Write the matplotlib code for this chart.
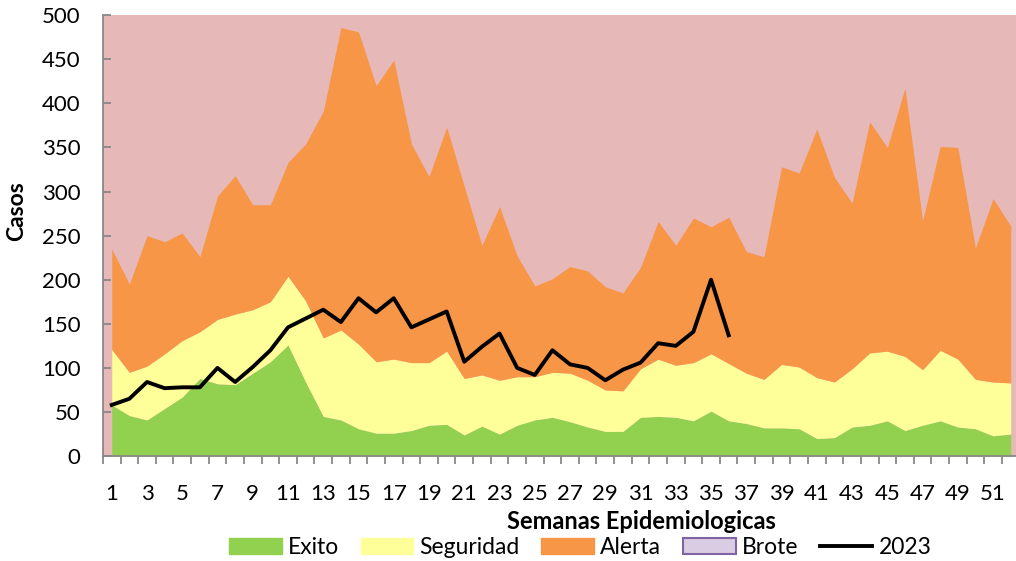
import matplotlib
matplotlib.use('Agg')
import matplotlib.pyplot as plt
from matplotlib.patches import Patch
from matplotlib.lines import Line2D
import numpy as np

plt.rcParams['font.family'] = ['Lato', 'DejaVu Sans']

weeks = np.arange(1, 53)

# upper limit of each zone (channel endemic limits), cases per week
exito = [58, 46, 41, 54, 67, 88, 82, 81, 94, 107, 126, 84, 45, 41, 31, 26, 26, 29,
         35, 36, 24, 34, 25, 35, 41, 44, 39, 33, 28, 28, 44, 45, 44, 40, 51, 40,
         37, 32, 32, 31, 20, 21, 33, 35, 40, 29, 35, 40, 33, 31, 23, 25]
seguridad = [121, 95, 102, 116, 131, 141, 155, 161, 166, 175, 204, 176, 134, 143, 127, 107, 110, 106,
             106, 119, 88, 92, 86, 90, 90, 95, 94, 86, 75, 74, 99, 110, 103, 106, 116, 105,
             94, 87, 104, 101, 89, 84, 99, 117, 119, 113, 98, 120, 110, 87, 84, 83]
alerta = [235, 195, 250, 243, 253, 226, 295, 318, 285, 285, 333, 354, 391, 486, 481, 420, 449, 354,
          317, 373, 306, 239, 283, 227, 193, 201, 215, 210, 192, 185, 214, 266, 239, 270, 260, 271,
          232, 226, 328, 321, 371, 316, 287, 379, 350, 417, 267, 351, 350, 236, 292, 261]

weeks_2023 = np.arange(1, 37)
casos_2023 = [58, 65, 84, 77, 78, 78, 100, 84, 101, 120, 146, 156, 166, 152, 179, 163, 179, 146,
              155, 164, 107, 124, 139, 100, 92, 120, 104, 100, 86, 98, 106, 128, 125, 141, 200, 137]

c_exito = '#92D050'
c_seg = '#FFFF99'
c_alerta = '#F79646'
c_brote_bg = '#E6B8B7'
c_brote = '#D9CCE3'
grey = '#888888'

fig = plt.figure(figsize=(10.16, 5.61), dpi=100)
ax = fig.add_axes([0.1013, 0.187, 0.8987, 0.786])
ax.set_facecolor(c_brote_bg)

ax.fill_between(weeks, 0, exito, color=c_exito, linewidth=0, zorder=2)
ax.fill_between(weeks, exito, seguridad, color=c_seg, linewidth=0, zorder=2)
ax.fill_between(weeks, seguridad, alerta, color=c_alerta, linewidth=0, zorder=2)
ax.plot(weeks_2023, casos_2023, color='black', linewidth=2.8, zorder=4)

ax.set_xlim(0.5, 52.3)
ax.set_ylim(0, 500)
ax.set_yticks(np.arange(0, 501, 50))
ax.set_xticks(weeks[::2])
ax.set_xticks(np.append(0.5, weeks[:-1] + 0.5), minor=True)
ax.tick_params(axis='x', which='major', length=0, labelsize=16, pad=20)
ax.tick_params(axis='x', which='minor', length=6, color=grey, width=1.3)
ax.tick_params(axis='y', direction='in', length=6, color=grey, width=1.3,
               labelsize=16, pad=16)

for s in ['top', 'right']:
    ax.spines[s].set_visible(False)
for s in ['left', 'bottom']:
    ax.spines[s].set_color(grey)
    ax.spines[s].set_linewidth(1.3)
    ax.spines[s].set_zorder(5)

ax.set_ylabel('Casos', fontsize=16.5, fontweight='bold')
ax.yaxis.set_label_coords(-0.083, 0.555)
ax.set_xlabel('Semanas Epidemiologicas', fontsize=17, fontweight='bold')
ax.xaxis.set_label_coords(0.59, -0.122)

handles = [Patch(facecolor=c_exito, edgecolor=c_exito),
           Patch(facecolor=c_seg, edgecolor=c_seg),
           Patch(facecolor=c_alerta, edgecolor=c_alerta),
           Patch(facecolor=c_brote, edgecolor='#8064A2', linewidth=1.5),
           Line2D([0], [0], color='black', linewidth=2.8)]
labels = ['Exito', 'Seguridad', 'Alerta', 'Brote', '2023']
fig.legend(handles, labels, loc='center', bbox_to_anchor=(0.571, 0.024), ncol=5,
           frameon=False, fontsize=16.5, handlelength=2.3, handleheight=0.7,
           handletextpad=0.26, columnspacing=0.95, borderpad=0)

fig.savefig('out.png', dpi=100)
